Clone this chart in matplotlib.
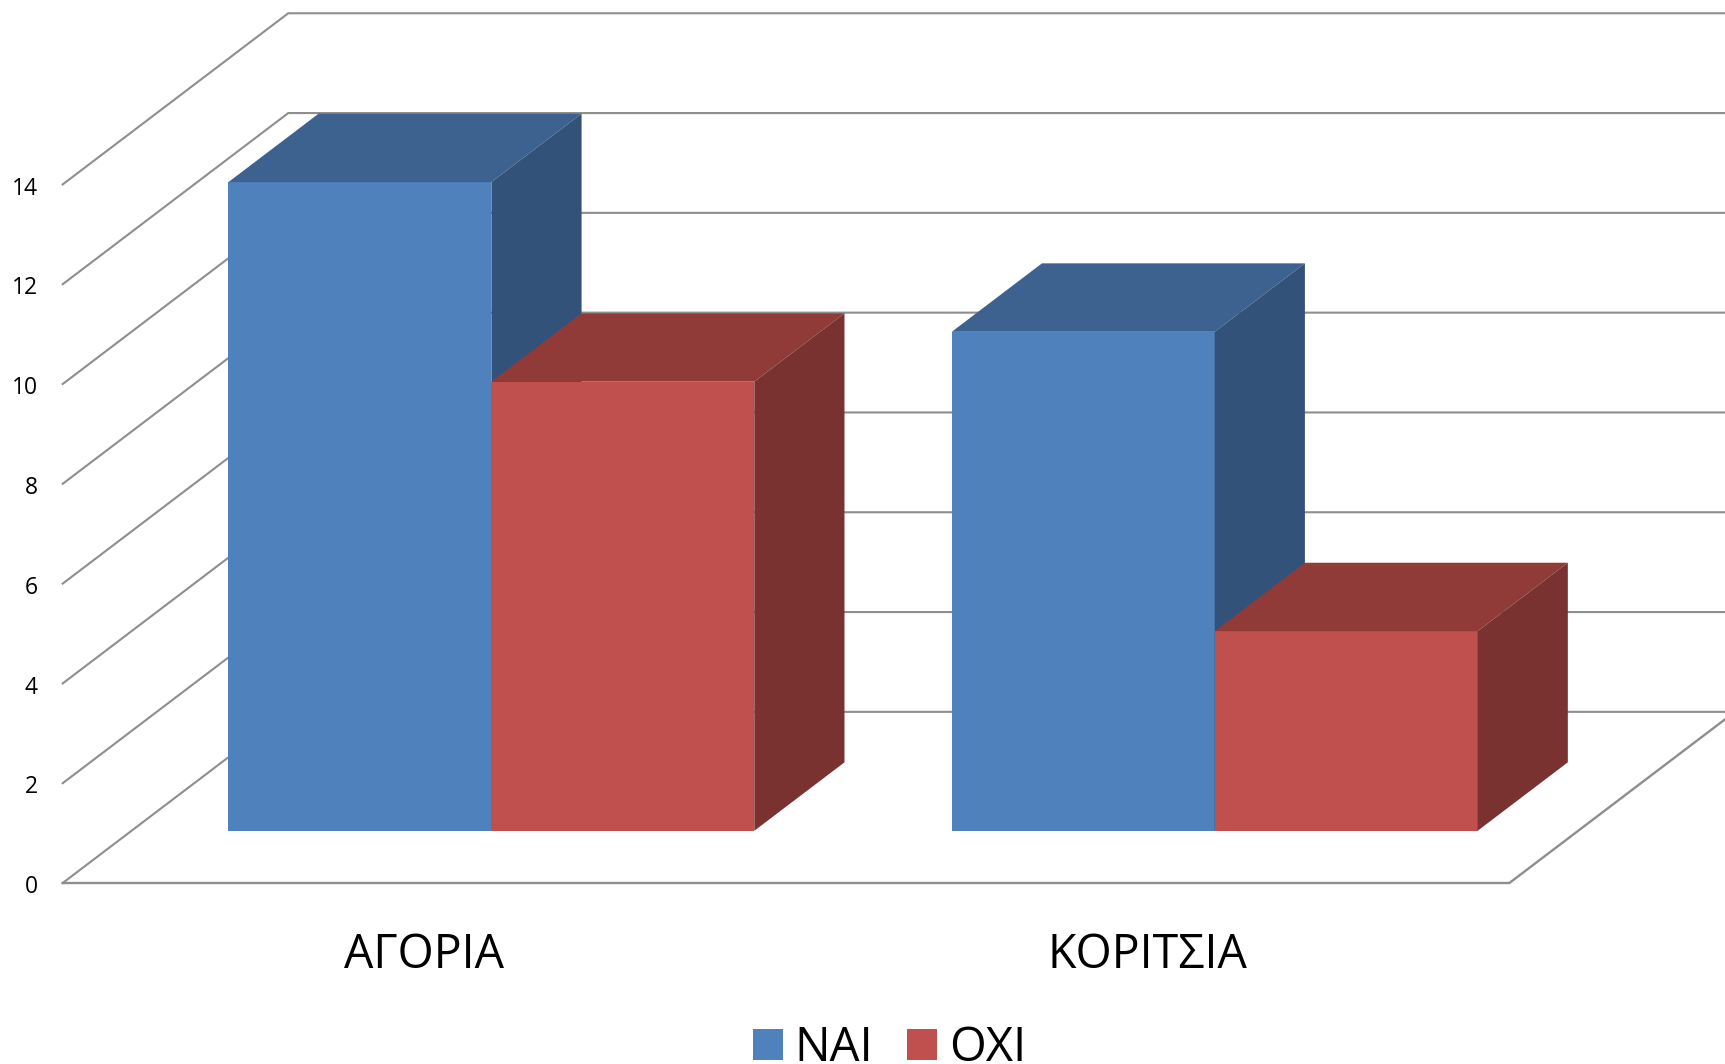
import matplotlib
matplotlib.use('agg')
import matplotlib.pyplot as plt
from matplotlib.transforms import ScaledTranslation
import numpy as np

plt.rcParams['font.family'] = ['Open Sans', 'DejaVu Sans']

categories = ['ΑΓΟΡΙΑ', 'ΚΟΡΙΤΣΙΑ']
series_names = ['ΝΑΙ', 'ΟΧΙ']
nai = [13, 10]
oxi = [9, 4]
value_ticks = [0, 2, 4, 6, 8, 10, 12, 14]

# oblique projection: how far a unit of depth moves along x and y
dx = 0.3118
dy = 3.43
d_front = 0.305
d_back = 0.705
gap = 0.134
bar_w = 0.3635

front_col = ['#4F81BD', '#C0504D']
top_col = ['#3D6290', '#913B38']
side_col = ['#32527A', '#7A3230']
grid_col = '#8E8E8E'

fig = plt.figure(figsize=(17.25, 10.64), dpi=100)
ax = fig.add_axes([57/1568, (967-802.5)/967, (1568-57)/1568, 802.5/967])
ax.set_xlim(0, (1568-57)/657.5)
ax.set_ylim(0, 802.5/45.35)

for v in value_ticks:
    ax.plot([0, dx, 2+dx], [v, v+dy, v+dy], color=grid_col, lw=1.5, zorder=1,
            solid_joinstyle='miter', clip_on=False)
ax.plot([0, 2, 2+dx], [0, 0, dy], color=grid_col, lw=1.7, zorder=1,
        solid_joinstyle='miter', clip_on=False)

for s, vals in enumerate([nai, oxi]):
    for c, v in enumerate(vals):
        x0 = c + gap + s*bar_w + d_front*dx
        x1 = x0 + bar_w
        y0 = d_front*dy
        y1 = y0 + v
        ox = (d_back-d_front)*dx
        oy = (d_back-d_front)*dy
        ax.bar(x0, v, bar_w, bottom=y0, align='edge', color=front_col[s], zorder=3,
               label=series_names[s] if c == 0 else None)
        ax.fill([x0, x1, x1+ox, x0+ox], [y1, y1, y1+oy, y1+oy], color=top_col[s], lw=0, zorder=3)
        ax.fill([x1, x1+ox, x1+ox, x1], [y0, y0+oy, y1+oy, y1], color=side_col[s], lw=0, zorder=3)

for sp in ax.spines.values():
    sp.set_visible(False)
ax.patch.set_visible(False)
ax.set_yticks(value_ticks)
ax.tick_params(axis='y', length=0, labelsize=16.5, pad=18)
# labels sit a little lower than plain centring gives
shift = ScaledTranslation(0, -0.8/72, fig.dpi_scale_trans)
for lab in ax.get_yticklabels():
    lab.set_transform(lab.get_transform() + shift)
ax.set_xticks([0.5, 1.5])
ax.set_xticklabels(categories)
ax.tick_params(axis='x', length=0, labelsize=33.5, pad=35)

ax.legend(loc='lower center', bbox_to_anchor=(808.5/1568, -0.0075), bbox_transform=fig.transFigure,
          ncol=2, frameon=False, fontsize=34, handlelength=0.63, handleheight=0.63,
          handletextpad=0.25, columnspacing=0.72, borderpad=0.0, borderaxespad=0.0)

fig.savefig('out.png', dpi=100)
